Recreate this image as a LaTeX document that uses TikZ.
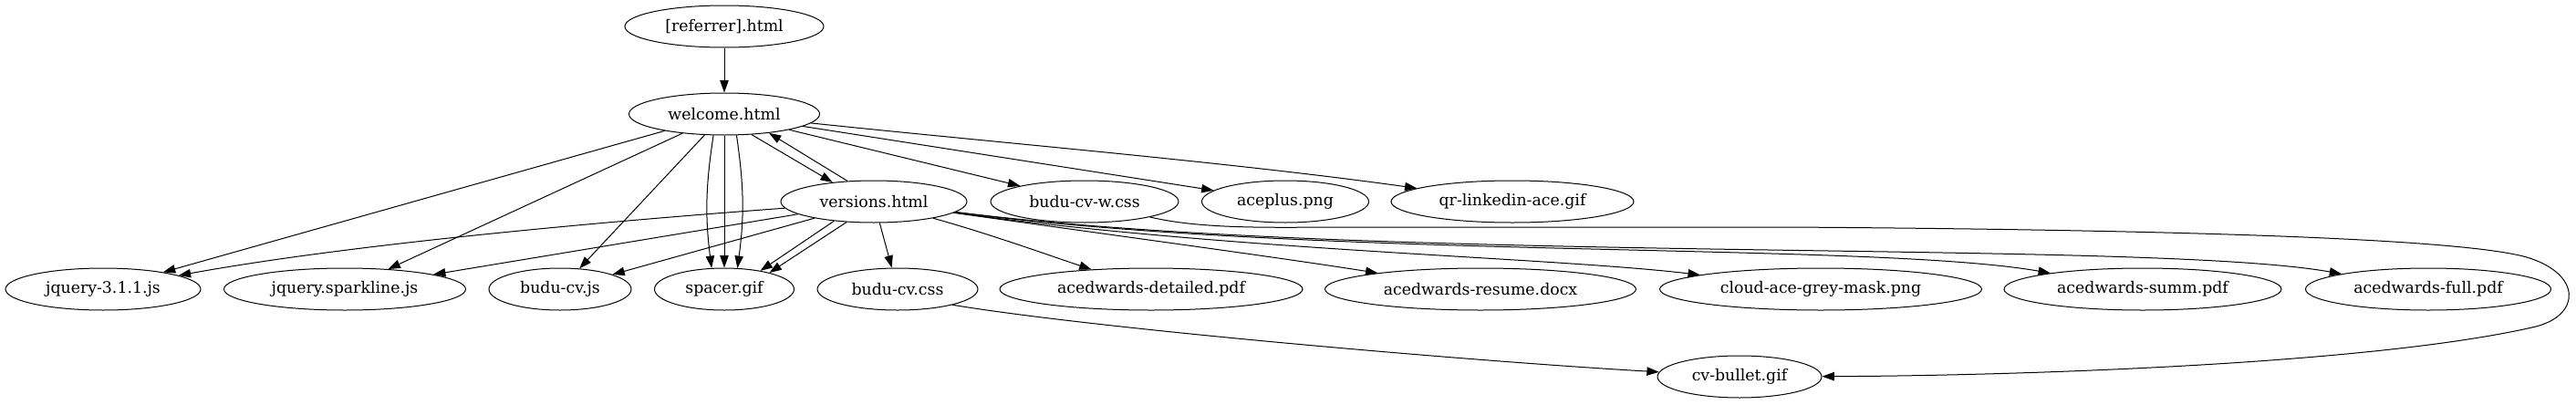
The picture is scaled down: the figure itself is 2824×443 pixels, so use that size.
\documentclass[tikz,border=0pt]{standalone}
\usepackage{fontspec}
\setmainfont{DejaVu Serif}
\usetikzlibrary{shapes.geometric,arrows.meta}
\begin{document}
\begin{tikzpicture}[x=0.75pt,y=-0.75pt,
  nd/.style={ellipse,draw,line width=0.75pt,minimum height=34.5pt,inner sep=0pt,font=\fontsize{13}{15}\selectfont},
  ed/.style={line width=0.75pt,-{Triangle[length=10pt,width=7pt]}}]
\useasboundingbox (0,0) rectangle (2824,443);
\newcommand{\lbl}[1]{\makebox[0pt]{#1}}
\node[nd,minimum width=163.5pt] (ref) at (794,29) {\lbl{[referrer].html}};
\node[nd,minimum width=156.75pt] (welcome) at (794,125) {\lbl{welcome.html}};
\node[nd,minimum width=153pt] (versions) at (958,221) {\lbl{versions.html}};
\node[nd,minimum width=154.5pt] (bcw) at (1189,221) {\lbl{budu-cv-w.css}};
\node[nd,minimum width=137.25pt] (aceplus) at (1409,221) {\lbl{aceplus.png}};
\node[nd,minimum width=199.5pt] (qr) at (1658,221) {\lbl{qr-linkedin-ace.gif}};
\node[nd,minimum width=160.5pt] (jq) at (113,317) {\lbl{jquery-3.1.1.js}};
\node[nd,minimum width=198.75pt] (spark) at (378,317) {\lbl{jquery.sparkline.js}};
\node[nd,minimum width=117pt] (bcvjs) at (614,317) {\lbl{budu-cv.js}};
\node[nd,minimum width=114.75pt] (spacer) at (794,317) {\lbl{spacer.gif}};
\node[nd,minimum width=132pt] (bcvcss) at (984,317) {\lbl{budu-cv.css}};
\node[nd,minimum width=249pt] (detailed) at (1262,317) {\lbl{acedwards-detailed.pdf}};
\node[nd,minimum width=255.75pt] (resume) at (1623,317) {\lbl{acedwards-resume.docx}};
\node[nd,minimum width=264.75pt] (cloud) at (1996,317) {\lbl{cloud-ace-grey-mask.png}};
\node[nd,minimum width=228pt] (summ) at (2349,317) {\lbl{acedwards-summ.pdf}};
\node[nd,minimum width=201.75pt] (full) at (2662,317) {\lbl{acedwards-full.pdf}};
\node[nd,minimum width=135pt] (bullet) at (1907,413) {\lbl{cv-bullet.gif}};
% edges from referrer / welcome
\draw[ed] (ref) -- (welcome);
\draw[ed] (welcome.-37) -- (versions.155);
\draw[ed] (versions.142) -- (welcome.-23);
\draw[ed] (welcome) -- (bcw);
\draw[ed] (welcome) -- (aceplus);
\draw[ed] (welcome) .. controls (1100,157) and (1350,178) .. (qr);
\draw[ed] (welcome) -- (jq);
\draw[ed] (welcome) -- (spark);
\draw[ed] (welcome) -- (bcvjs);
\draw[ed] (welcome.-117.7) to[bend right=8] (spacer.121.8);
\draw[ed] (welcome.south) -- (spacer.north);
\draw[ed] (welcome.-60.4) to[bend left=8] (spacer.58.2);
% edges from versions
\draw[ed] (versions) .. controls (700,240) and (400,265) .. (jq);
\draw[ed] (versions) -- (spark);
\draw[ed] (versions) -- (bcvjs);
\draw[ed] (versions.-154) -- (spacer.27);
\draw[ed] (versions.-143.7) -- (spacer.20.5);
\draw[ed] (versions) -- (bcvcss);
\draw[ed] (versions) .. controls (1090,258) and (1150,280) .. (detailed);
\draw[ed] (versions) .. controls (1250,262) and (1400,282) .. (resume);
\draw[ed] (versions) .. controls (1350,275) and (1700,282) .. (cloud);
\draw[ed] (versions) .. controls (1450,285) and (2050,265) .. (summ);
\draw[ed] (versions) .. controls (1500,290) and (2350,262) .. (full);
% to cv-bullet
\draw[ed] (bcvcss.-16) .. controls (1200,360) and (1600,395) .. (bullet);
\draw[ed] (bcw) .. controls (1320,252) and (1400,249) .. (1480,249) -- (1960,249)
  .. controls (2400,252) and (2700,262) .. (2770,282)
  .. controls (2830,300) and (2830,345) .. (2780,358)
  .. controls (2600,400) and (2200,412) .. (bullet);
\end{tikzpicture}
\end{document}
